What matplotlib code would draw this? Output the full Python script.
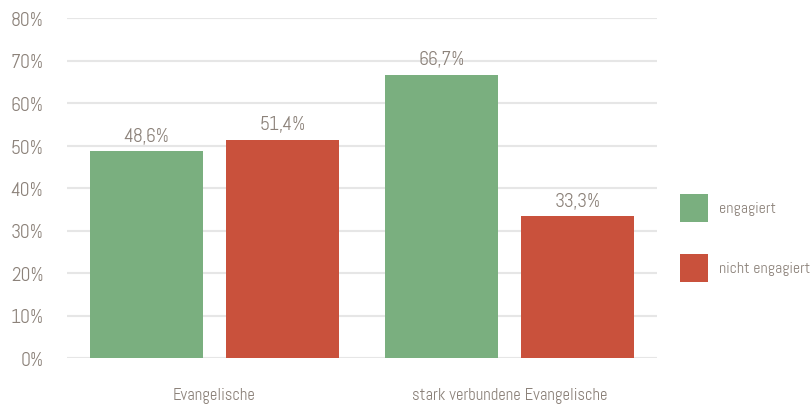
import matplotlib
matplotlib.use("Agg")
import matplotlib.pyplot as plt
import numpy as np

categories = ["Evangelische", "stark verbundene Evangelische"]
series_names = ["engagiert", "nicht engagiert"]
engagiert = [48.6, 66.7]
nicht_engagiert = [51.4, 33.3]
yticks = [0, 10, 20, 30, 40, 50, 60, 70, 80]

colors = ["#7aaf7f", "#c9513c"]
txt = "#8c827a"
grid = "#e6e6e6"

plt.rcParams["font.family"] = ["Abel", "DejaVu Sans"]

fig = plt.figure(figsize=(8.12, 4.06), dpi=100)
ax = fig.add_axes([67/812, 47/406, 590/812, 340/406])

x = np.arange(len(categories))
w = 0.386
off = 0.2305
b1 = ax.bar(x - off, engagiert, w, color=colors[0], label=series_names[0], zorder=3)
b2 = ax.bar(x + off, nicht_engagiert, w, color=colors[1], label=series_names[1], zorder=3)

fs_num = 14
fs_word = 12
fs_leg = 11.3
for bars, vals in ((b1, engagiert), (b2, nicht_engagiert)):
    ax.bar_label(bars, labels=[f"{v:.1f}%".replace(".", ",") for v in vals],
                 padding=5, color=txt, fontsize=fs_num)

ax.set_xlim(-0.5, 1.5)
ax.set_ylim(0, 80)
ax.set_yticks(yticks)
ax.set_yticklabels([f"{t}%" for t in yticks])
ax.set_xticks(x)
ax.set_xticklabels(categories)
ax.tick_params(axis="y", length=0, pad=17, labelsize=fs_num, labelcolor=txt)
ax.tick_params(axis="x", length=0, pad=21, labelsize=fs_word, labelcolor=txt)
ax.yaxis.grid(True, color=grid, linewidth=1.5, zorder=0)
ax.set_axisbelow(True)
for s in ax.spines.values():
    s.set_visible(False)

fpx = fs_leg * 100 / 72
hl = 28 / fpx
hh = (hl - 0.245) / 0.65
leg = ax.legend(loc="center left", bbox_to_anchor=(1.039, 0.354), frameon=False,
                fontsize=fs_leg, labelcolor=txt, handlelength=hl, handleheight=hh,
                labelspacing=32 / fpx, handletextpad=11 / fpx, borderpad=0, borderaxespad=0)

fig.savefig("out.png", dpi=100)
